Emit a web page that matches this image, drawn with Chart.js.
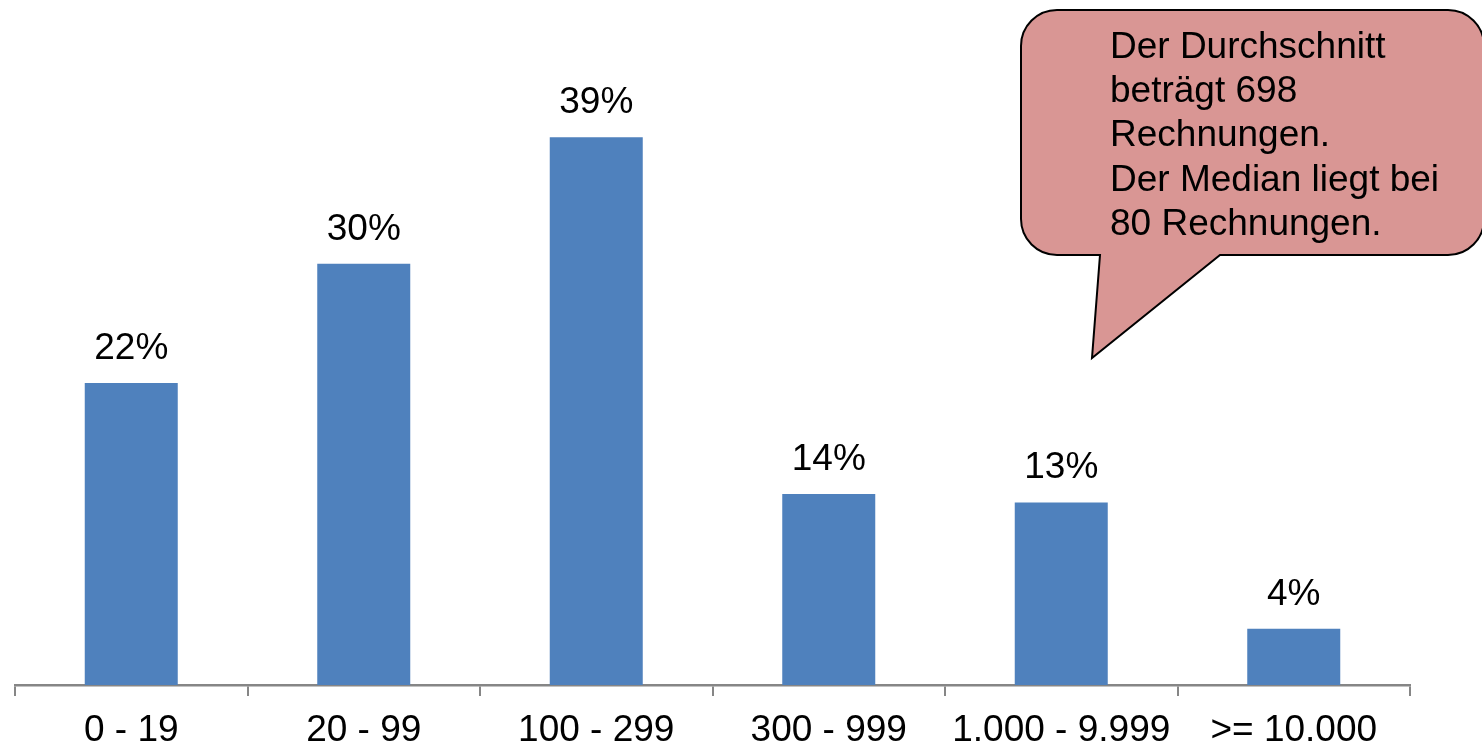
<!DOCTYPE html>
<html>
<head>
<meta charset="utf-8">
<script src="https://cdn.jsdelivr.net/npm/chart.js@4/dist/chart.umd.min.js"></script>
<style>
  html, body { margin: 0; padding: 0; background: #ffffff; overflow: hidden; }
  #wrap { position: relative; width: 1482px; height: 745px; }
</style>
</head>
<body>
<div id="wrap"><canvas id="c" width="1482" height="745"></canvas></div>
<script>
// ---- data ----
const categories = ['0 - 19', '20 - 99', '100 - 299', '300 - 999', '1.000 - 9.999', '>= 10.000'];
const shares = [21.5, 30.0, 39.0, 13.6, 13.0, 4.0];
const valueLabels = ['22%', '30%', '39%', '14%', '13%', '4%'];
const calloutLines = ['Der Durchschnitt', 'beträgt 698', 'Rechnungen.', 'Der Median liegt bei', '80 Rechnungen.'];

const FONT = '"Liberation Sans", Arial, sans-serif';

const barLabels = {
  id: 'barLabels',
  afterDatasetsDraw(chart) {
    const ctx = chart.ctx;
    const meta = chart.getDatasetMeta(0);
    ctx.save();
    ctx.font = '37px ' + FONT;
    ctx.fillStyle = '#000000';
    ctx.textAlign = 'center';
    ctx.textBaseline = 'alphabetic';
    meta.data.forEach((bar, i) => {
      ctx.fillText(valueLabels[i], bar.x, bar.y - 24);
    });
    ctx.restore();
  }
};

const callout = {
  id: 'callout',
  afterDraw(chart) {
    const ctx = chart.ctx;
    const L = 1021, T = 10, R = 1484, B = 255, r = 36;
    ctx.save();
    ctx.beginPath();
    ctx.moveTo(L + r, T);
    ctx.lineTo(R - r, T);
    ctx.arcTo(R, T, R, T + r, r);
    ctx.lineTo(R, B - r);
    ctx.arcTo(R, B, R - r, B, r);
    ctx.lineTo(1220, B);
    ctx.lineTo(1092, 358);
    ctx.lineTo(1100, B);
    ctx.lineTo(L + r, B);
    ctx.arcTo(L, B, L, B - r, r);
    ctx.lineTo(L, T + r);
    ctx.arcTo(L, T, L + r, T, r);
    ctx.closePath();
    ctx.fillStyle = '#D99694';
    ctx.fill();
    ctx.lineWidth = 2;
    ctx.strokeStyle = '#000000';
    ctx.stroke();
    ctx.font = '37px ' + FONT;
    ctx.fillStyle = '#000000';
    ctx.textAlign = 'left';
    ctx.textBaseline = 'alphabetic';
    calloutLines.forEach((line, i) => {
      ctx.fillText(line, 1110, 57.5 + i * 44.4);
    });
    ctx.restore();
  }
};

new Chart(document.getElementById('c'), {
  type: 'bar',
  data: {
    labels: categories,
    datasets: [{
      data: shares,
      backgroundColor: '#4F81BD',
      borderWidth: 0,
      barPercentage: 0.4,
      categoryPercentage: 1.0
    }]
  },
  options: {
    responsive: false,
    animation: false,
    events: [],
    layout: { padding: { left: 15, right: 72, top: 53, bottom: 0 } },
    plugins: { legend: { display: false }, tooltip: { enabled: false } },
    scales: {
      x: {
        offset: true,
        afterFit(scale) { scale.height = 60; },
        grid: {
          display: true,
          offset: true,
          drawOnChartArea: false,
          drawTicks: true,
          tickLength: 11,
          color: '#868686',
          lineWidth: 2
        },
        border: { display: true, color: '#868686', width: 2.5 },
        ticks: {
          padding: 13,
          color: '#000000',
          maxRotation: 0,
          autoSkip: false,
          font: { family: FONT, size: 37, lineHeight: 1.2 }
        }
      },
      y: {
        display: false,
        min: 0,
        max: 45
      }
    }
  },
  plugins: [barLabels, callout]
});
</script>
</body>
</html>
